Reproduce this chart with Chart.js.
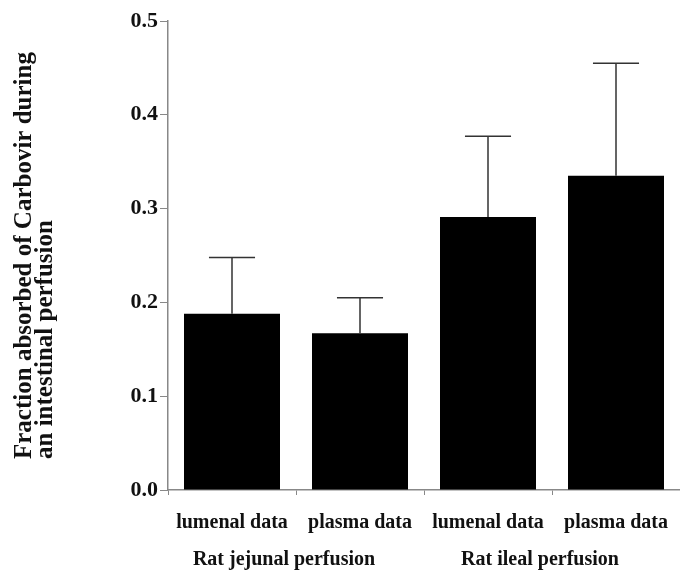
<!DOCTYPE html>
<html>
<head>
<meta charset="utf-8">
<script src="https://cdn.jsdelivr.net/npm/chart.js@4"></script>
<style>
  html, body { margin: 0; padding: 0; background: #fff; }
  #wrap { width: 680px; height: 572px; position: relative; }
</style>
</head>
<body>
<div id="wrap"><canvas id="absorptionChart"></canvas></div>
<script>
// values
const categories = ['lumenal data', 'plasma data', 'lumenal data', 'plasma data'];
const groups = ['Rat jejunal perfusion', 'Rat ileal perfusion'];
const fractionAbsorbed = [0.188, 0.167, 0.291, 0.335];
const errorSD = [0.060, 0.038, 0.086, 0.120];
const yTicks = [0, 0.1, 0.2, 0.3, 0.4, 0.5];
const yTitle = ['Fraction absorbed of Carbovir during', 'an intestinal perfusion'];

const serif = '"Liberation Serif", "Times New Roman", serif';
const inkColor = '#111';
const axisColor = '#888';

// upper error bars with a cap
const errorBars = {
    id: 'errorBars',
    afterDatasetsDraw(chart) {
        const ctx = chart.ctx;
        const yScale = chart.scales.y;
        const meta = chart.getDatasetMeta(0);
        ctx.save();
        ctx.strokeStyle = '#333';
        ctx.lineWidth = 1.5;
        meta.data.forEach(function(bar, i) {
            const top = yScale.getPixelForValue(fractionAbsorbed[i] + errorSD[i]);
            const half = bar.width * 0.24;
            ctx.beginPath();
            ctx.moveTo(bar.x, bar.y);
            ctx.lineTo(bar.x, top);
            ctx.moveTo(bar.x - half, top);
            ctx.lineTo(bar.x + half, top);
            ctx.stroke();
        });
        ctx.restore();
    }
};

// two-line rotated title, both lines start at the same bottom point
const yAxisTitle = {
    id: 'yAxisTitle',
    afterDraw(chart) {
        const ctx = chart.ctx;
        ctx.save();
        ctx.font = 'bold 25px ' + serif;
        ctx.fillStyle = inkColor;
        ctx.textAlign = 'left';
        ctx.textBaseline = 'alphabetic';
        ctx.translate(0, 459);
        ctx.rotate(-Math.PI / 2);
        yTitle.forEach(function(line, i) {
            ctx.fillText(line, 0, 31 + i * 21);
        });
        ctx.restore();
    }
};

new Chart(document.getElementById('absorptionChart'), {
    type: 'bar',
    data: {
        labels: categories,
        datasets: [{
            data: fractionAbsorbed,
            backgroundColor: '#000',
            barPercentage: 0.75,
            categoryPercentage: 1.0,
            xAxisID: 'x'
        }]
    },
    options: {
        responsive: true,
        maintainAspectRatio: false,
        animation: false,
        layout: {
            padding: { top: 21, right: 0, bottom: 0, left: 0 }
        },
        plugins: {
            legend: { display: false },
            tooltip: { enabled: false }
        },
        scales: {
            x: {
                position: 'bottom',
                afterFit: function(scale) {
                    scale.height = 48;
                    scale.paddingRight = 0;
                },
                grid: { drawOnChartArea: false, tickLength: 5, color: axisColor, offset: true },
                border: { color: axisColor, width: 1.5 },
                ticks: {
                    color: inkColor,
                    autoSkip: false,
                    maxRotation: 0,
                    padding: 16,
                    font: { family: serif, weight: 'bold', size: 20 }
                }
            },
            x2: {
                type: 'category',
                labels: groups,
                position: 'bottom',
                offset: true,
                afterFit: function(scale) {
                    scale.height = 34;
                    scale.paddingRight = 0;
                },
                grid: { display: false, drawTicks: false },
                border: { display: false },
                ticks: {
                    color: inkColor,
                    autoSkip: false,
                    maxRotation: 0,
                    padding: 10,
                    labelOffset: -12,
                    font: { family: serif, weight: 'bold', size: 20 }
                }
            },
            y: {
                min: 0,
                max: 0.5,
                afterFit: function(scale) {
                    scale.width = 168;
                },
                afterBuildTicks: function(scale) {
                    scale.ticks = yTicks.map(function(v) { return { value: v }; });
                },
                grid: { drawOnChartArea: false, tickLength: 8, color: axisColor },
                border: { color: axisColor, width: 1.5 },
                ticks: {
                    color: inkColor,
                    padding: 2,
                    callback: function(value) {
                        return value.toFixed(1);
                    },
                    font: { family: serif, weight: 'bold', size: 22 }
                }
            }
        }
    },
    plugins: [errorBars, yAxisTitle]
});
</script>
</body>
</html>
